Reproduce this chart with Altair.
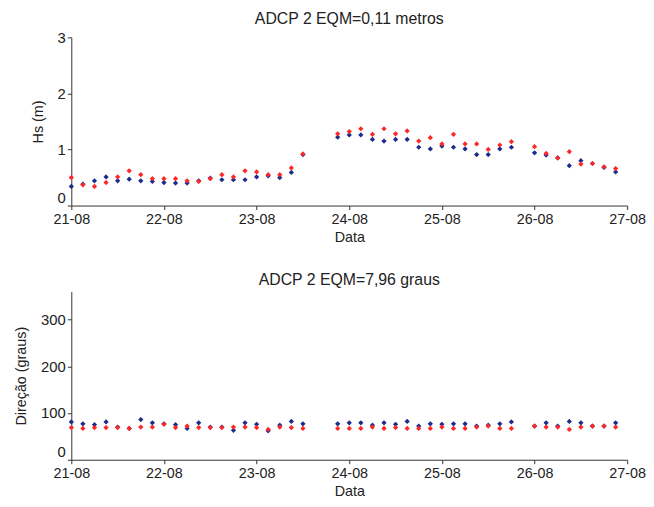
import altair as alt
import pandas as pd

# time offsets (hours since 21-08 00:00) of the plotted samples
hours = [0, 3, 6, 9, 12, 15, 18, 21, 24, 27, 30, 33, 36, 39, 42, 45, 48, 51, 54, 57, 60,
         69, 72, 75, 78, 81, 84, 87, 90, 93, 96, 99, 102, 105, 108, 111, 114,
         120, 123, 126, 129, 132, 135, 138, 141]

hs_adcp = [0.34, 0.38, 0.44, 0.51, 0.44, 0.47, 0.44, 0.43, 0.41, 0.40, 0.40, 0.44, 0.49, 0.46,
           0.46, 0.46, 0.51, 0.53, 0.50, 0.59, 0.91,
           1.22, 1.26, 1.26, 1.18, 1.15, 1.18, 1.18, 1.04, 1.01, 1.06, 1.04, 1.01, 0.91, 0.91,
           1.01, 1.04,
           0.94, 0.90, 0.85, 0.71, 0.80, 0.75, 0.68, 0.60]
hs_modelo = [0.50, 0.37, 0.34, 0.41, 0.51, 0.62, 0.55, 0.48, 0.48, 0.48, 0.44, 0.43, 0.48, 0.55,
             0.51, 0.62, 0.60, 0.55, 0.55, 0.67, 0.92,
             1.28, 1.32, 1.37, 1.27, 1.37, 1.28, 1.33, 1.15, 1.21, 1.10, 1.27, 1.10, 1.10, 1.00,
             1.08, 1.14,
             1.05, 0.93, 0.85, 0.96, 0.74, 0.75, 0.69, 0.66]

dir_adcp = [81, 77, 75, 81, 70, 67, 86, 79, 77, 75, 67, 79, 70, 70, 63, 79, 76, 62, 74, 82, 77,
            77, 79, 79, 74, 79, 76, 82, 72, 77, 76, 77, 77, 72, 74, 77, 81,
            72, 79, 72, 82, 79, 72, 72, 79]
dir_modelo = [69, 67, 69, 69, 69, 67, 70, 70, 76, 69, 72, 69, 69, 69, 70, 70, 69, 65, 70, 69, 67,
              67, 67, 67, 70, 67, 69, 67, 67, 67, 70, 67, 67, 70, 72, 67, 67,
              72, 70, 70, 65, 70, 72, 72, 70]

series = ["ADCP", "Modelo"]
colors = ["#1c2c8c", "#ff2626"]

base_time = pd.Timestamp("2013-08-21 00:00")
times = [(base_time + pd.Timedelta(hours=h)).strftime("%Y-%m-%dT%H:%M:%S") for h in hours]

rows = []
for s, hs, dr in [("ADCP", hs_adcp, dir_adcp), ("Modelo", hs_modelo, dir_modelo)]:
    for t, a, b in zip(times, hs, dr):
        rows.append({"t": t, "serie": s, "hs": a, "dir": b})
df = pd.DataFrame(rows)

day_ticks = [alt.DateTime(year=2013, month=8, date=d) for d in range(21, 28)]

x_enc = alt.X(
    "t:T",
    scale=alt.Scale(domain=[day_ticks[0], day_ticks[-1]]),
    axis=alt.Axis(values=day_ticks, format="%d-%m", title="Data", labelFlush=False),
)
color_enc = alt.Color("serie:N", scale=alt.Scale(domain=series, range=colors), legend=None)

zero_up = alt.expr("datum.value == 0 ? 'bottom' : 'middle'")

top = alt.Chart(df).mark_point(shape="diamond", filled=True, size=28, opacity=1).encode(
    x=x_enc,
    y=alt.Y("hs:Q", scale=alt.Scale(domain=[0, 3]),
            axis=alt.Axis(values=[0, 1, 2, 3], title="Hs (m)", labelFlush=False,
                          labelBaseline=zero_up)),
    color=color_enc,
).properties(width=562, height=170, title="ADCP 2 EQM=0,11 metros")

bottom = alt.Chart(df).mark_point(shape="diamond", filled=True, size=28, opacity=1).encode(
    x=x_enc,
    y=alt.Y("dir:Q", scale=alt.Scale(domain=[0, 360]),
            axis=alt.Axis(values=[0, 100, 200, 300], title="Direção (graus)", labelFlush=False,
                          labelBaseline=zero_up)),
    color=color_enc,
).properties(width=562, height=170, title="ADCP 2 EQM=7,96 graus")

chart = alt.vconcat(top, bottom, spacing=28).properties(
    padding={"left": 5, "top": 0, "right": 0, "bottom": 0}
).configure_view(stroke=None).configure_axis(
    grid=False,
    domainColor="#333",
    tickColor="#333",
    tickSize=4,
    labelFont="Liberation Sans",
    labelFontSize=15,
    labelColor="#222",
    labelPadding=2,
    titleFont="Liberation Sans",
    titleFontSize=14.5,
    titleFontWeight="normal",
    titleColor="#222",
).configure_axisX(titlePadding=5, labelPadding=3, labelFontSize=14.5).configure_axisY(
    titlePadding=12
).configure_title(
    font="Liberation Sans", fontSize=16, fontWeight="normal", color="#222", offset=0
)

chart.save("out.html", embed_options={"renderer": "svg", "actions": False})
